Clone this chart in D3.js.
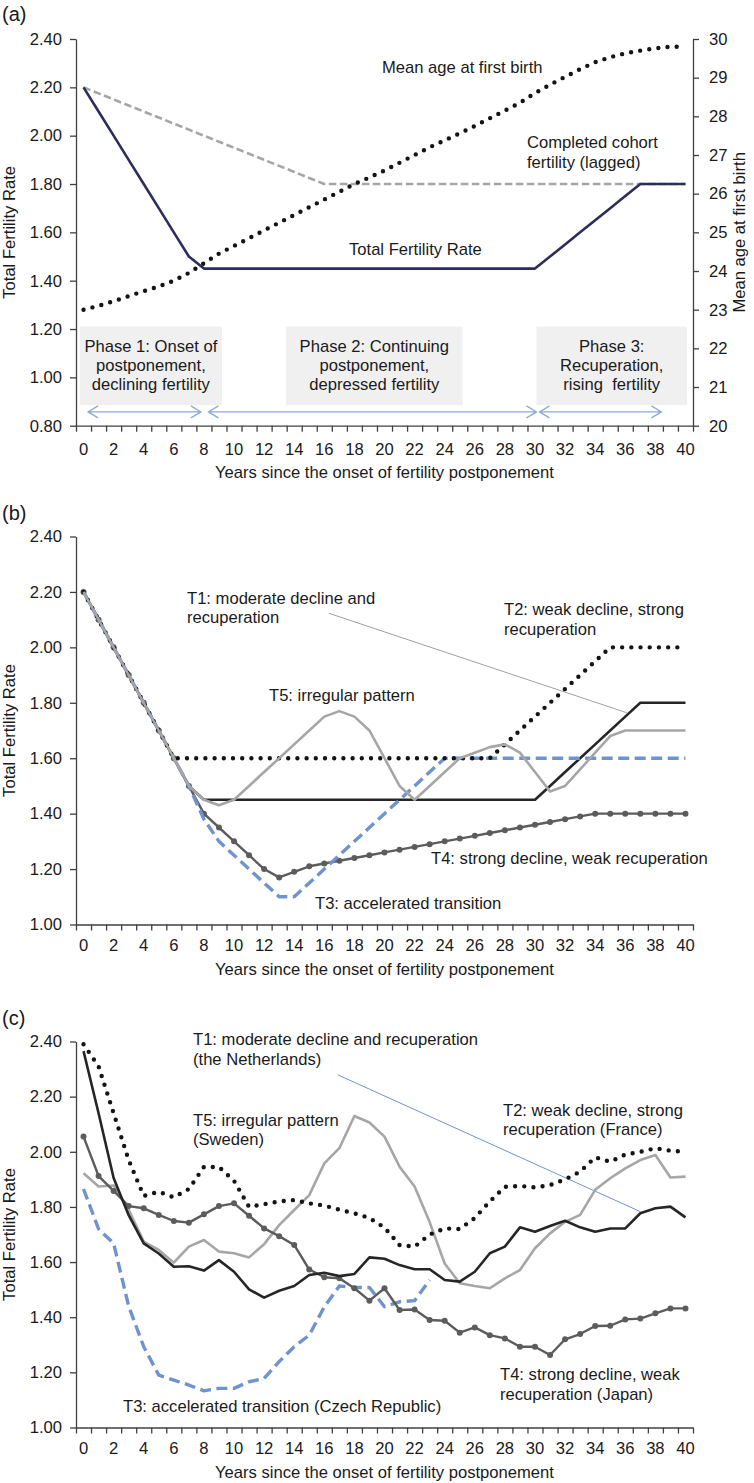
<!DOCTYPE html>
<html>
<head>
<meta charset="utf-8">
<script src="https://cdn.jsdelivr.net/npm/d3@7"></script>
<style>
  body { margin: 0; background: #fff; }
  svg text { font-family: "Liberation Sans", Arial, sans-serif; fill: #1a1a1a; }
</style>
</head>
<body>
<div id="chart"></div>
<script>
// ---- data ----
const years = [0,1,2,3,4,5,6,7,8,9,10,11,12,13,14,15,16,17,18,19,20,
               21,22,23,24,25,26,27,28,29,30,31,32,33,34,35,36,37,38,39,40];
const xLabels = [0,2,4,6,8,10,12,14,16,18,20,22,24,26,28,30,32,34,36,38,40];
const tfrTicksA = [0.8,1.0,1.2,1.4,1.6,1.8,2.0,2.2,2.4];
const tfrTicksBC = [1.0,1.2,1.4,1.6,1.8,2.0,2.2,2.4];
const ageTicks = [20,21,22,23,24,25,26,27,28,29,30];

// (a) stylised model
const aTotalFertility = [2.2,2.1,2.0,1.9,1.8,1.7,1.6,1.5,1.45,1.45,1.45,1.45,1.45,1.45,1.45,1.45,
  1.45,1.45,1.45,1.45,1.45,1.45,1.45,1.45,1.45,1.45,1.45,1.45,1.45,1.45,1.45,
  1.5,1.55,1.6,1.65,1.7,1.75,1.8,1.8,1.8,1.8];
const aCohortFertility = [2.2,2.175,2.15,2.125,2.1,2.075,2.05,2.025,2.0,1.975,1.95,1.925,1.9,1.875,1.85,1.825,
  1.8,1.8,1.8,1.8,1.8,1.8,1.8,1.8,1.8,1.8,1.8,1.8,1.8,1.8,1.8,1.8,1.8,1.8,1.8,1.8,1.8,1.8,1.8,1.8,1.8];
const aMeanAge = [23.0,23.1,23.22,23.35,23.48,23.6,23.75,23.95,24.2,24.45,
  24.65,24.85,25.05,25.25,25.45,25.65,25.85,26.05,26.25,26.42,
  26.6,26.8,27.0,27.2,27.38,27.56,27.75,27.95,28.15,28.35,
  28.6,28.82,29.02,29.22,29.4,29.53,29.63,29.7,29.76,29.8,29.8];
const aPhaseText = [
  ["Phase 1: Onset of", "postponement,", "declining fertility"],
  ["Phase 2: Continuing", "postponement,", "depressed fertility"],
  ["Phase 3:", "Recuperation,", "rising  fertility"]
];
const aPhaseSpans = [[-0.25, 9.2], [13.45, 25.2], [30.1, 40.1]];
const aArrowSpans = [[0.3, 7.8], [8.3, 30.1], [30.3, 38.4]];

// (b) stylised trajectories
const bT1 = [2.2,2.1,2.0,1.9,1.8,1.7,1.6,1.5,1.45,1.45,1.45,1.45,1.45,1.45,1.45,1.45,
  1.45,1.45,1.45,1.45,1.45,1.45,1.45,1.45,1.45,1.45,1.45,1.45,1.45,1.45,1.45,
  1.5,1.55,1.6,1.65,1.7,1.75,1.8,1.8,1.8,1.8];
const bT2 = [2.2,2.1,2.0,1.9,1.8,1.7,1.6,1.6,1.6,1.6,1.6,1.6,1.6,1.6,1.6,1.6,1.6,1.6,1.6,1.6,
  1.6,1.6,1.6,1.6,1.6,1.6,1.6,1.6,1.65,1.7,1.75,1.8,1.85,1.9,1.95,2.0,2.0,2.0,2.0,2.0,2.0];
const bT3 = [2.2,2.1,2.0,1.9,1.8,1.7,1.6,1.5,1.38,1.3,1.25,1.2,1.15,1.1,1.1,
  1.15,1.2,1.25,1.3,1.35,1.4,1.45,1.5,1.55,1.6,
  1.6,1.6,1.6,1.6,1.6,1.6,1.6,1.6,1.6,1.6,1.6,1.6,1.6,1.6,1.6,1.6];
const bT4 = [2.2,2.1,2.0,1.9,1.8,1.7,1.6,1.5,1.4,1.35,1.3,1.25,1.2,1.17,
  1.19,1.21,1.22,1.23,1.24,1.25,1.26,1.27,1.28,1.29,1.3,1.31,1.32,1.33,1.34,1.35,1.36,1.37,1.38,1.39,
  1.4,1.4,1.4,1.4,1.4,1.4,1.4];
const bT5 = [2.2,2.1,2.0,1.9,1.8,1.7,1.6,1.5,1.45,1.43,1.45,1.5,1.55,1.6,1.65,1.7,1.75,1.77,1.75,1.7,
  1.6,1.5,1.45,1.5,1.55,1.6,1.62,1.64,1.65,1.62,1.55,1.48,1.5,1.56,1.62,1.68,1.7,1.7,1.7,1.7,1.7];

// (c) country examples
const cNetherlands = [2.365,2.14,1.905,1.77,1.668,1.631,1.583,1.585,1.569,1.607,1.565,
  1.501,1.471,1.496,1.513,1.553,1.561,1.549,1.557,1.617,1.612,
  1.589,1.574,1.574,1.535,1.529,1.565,1.632,1.656,1.726,1.71,
  1.731,1.75,1.726,1.71,1.722,1.722,1.777,1.795,1.801,1.762];
const cFrance = [2.39,2.31,2.14,1.97,1.84,1.855,1.835,1.865,1.945,1.945,1.895,
  1.8,1.81,1.82,1.825,1.813,1.805,1.79,1.777,1.76,1.725,
  1.662,1.656,1.7,1.722,1.72,1.76,1.82,1.873,1.876,1.871,
  1.879,1.9,1.928,1.98,1.964,1.99,2.0,2.013,2.004,2.0];
const cCzech = [1.865,1.72,1.668,1.44,1.293,1.19,1.172,1.154,1.133,1.142,1.142,
  1.166,1.178,1.239,1.293,1.335,1.438,1.513,1.508,1.508,1.438,1.456,1.46,1.535];
const cJapan = [2.055,1.912,1.858,1.803,1.795,1.771,1.749,1.743,1.773,1.803,1.813,
  1.768,1.722,1.694,1.662,1.573,1.545,1.541,1.505,1.46,1.505,
  1.426,1.428,1.39,1.387,1.344,1.363,1.335,1.323,1.293,1.293,
  1.263,1.32,1.339,1.368,1.369,1.392,1.395,1.414,1.432,1.432];
const cSweden = [1.922,1.874,1.878,1.79,1.674,1.644,1.598,1.656,1.68,1.638,1.632,
  1.617,1.665,1.734,1.789,1.843,1.958,2.013,2.13,2.106,2.055,
  1.946,1.874,1.745,1.595,1.523,1.513,1.505,1.541,1.571,1.65,
  1.704,1.746,1.771,1.862,1.904,1.94,1.97,1.988,1.907,1.91];

// ---- drawing ----
const width = 754, height = 1483;
const svg = d3.select("#chart").append("svg")
  .attr("width", width)
  .attr("height", height);

const axisColor = "#404040";
const fontSize = "16.6px";
const x = d3.scaleLinear().domain([-0.5, 40.5]).range([76, 693]);
const yA = d3.scaleLinear().domain([0.8, 2.4]).range([425.7, 39]);
const yAge = d3.scaleLinear().domain([20, 30]).range([425.7, 39]);
const yB = d3.scaleLinear().domain([1.0, 2.4]).range([924.5, 536.5]);
const yC = d3.scaleLinear().domain([1.0, 2.4]).range([1427.5, 1041.5]);

function styleAxis(g) {
  g.attr("font-family", null).attr("font-size", null);
  g.select(".domain").attr("stroke", axisColor).attr("stroke-width", 1.3);
  g.selectAll(".tick line").attr("stroke", axisColor).attr("stroke-width", 1.3);
  g.selectAll(".tick text").style("font-size", fontSize).attr("fill", "#1a1a1a");
}

function drawFrame(y, yTicks, labelOffset, titleOffset, panelLabel, panelLabelY) {
  const bottom = y.range()[0];
  const top = y.range()[1];

  svg.append("g")
    .attr("transform", `translate(${x.range()[0]},0)`)
    .call(d3.axisLeft(y).tickValues(yTicks).tickSize(6).tickSizeOuter(0)
      .tickPadding(8).tickFormat(d3.format(".2f")))
    .call(styleAxis);

  const bounds = years.map(d => d - 0.5).concat([40.5]);
  svg.append("g")
    .attr("transform", `translate(0,${bottom})`)
    .call(d3.axisBottom(x).tickValues(bounds).tickSize(6).tickSizeOuter(0).tickFormat(""))
    .call(styleAxis);

  svg.append("g").selectAll("text")
    .data(xLabels)
    .enter()
    .append("text")
    .attr("x", d => x(d))
    .attr("y", bottom + labelOffset)
    .attr("text-anchor", "middle")
    .style("font-size", fontSize)
    .text(d => d);

  svg.append("text")
    .attr("x", 384.5)
    .attr("y", bottom + titleOffset)
    .attr("text-anchor", "middle")
    .style("font-size", fontSize)
    .text("Years since the onset of fertility postponement");

  svg.append("text")
    .attr("transform", `translate(15,${(top + bottom) / 2}) rotate(-90)`)
    .attr("text-anchor", "middle")
    .style("font-size", fontSize)
    .text("Total Fertility Rate");

  svg.append("text")
    .attr("x", 2)
    .attr("y", panelLabelY)
    .style("font-size", "20px")
    .text(panelLabel);
}

function plotLine(values, y, style) {
  const line = d3.line()
    .x((d, i) => x(years[i]))
    .y(d => y(d));
  const p = svg.append("path")
    .datum(values)
    .attr("d", line)
    .attr("fill", "none")
    .attr("stroke", style.color)
    .attr("stroke-width", style.width)
    .attr("stroke-linejoin", "round");
  if (style.dash) p.attr("stroke-dasharray", style.dash);
  if (style.cap) p.attr("stroke-linecap", style.cap);
  if (style.markers) {
    svg.append("g").selectAll("circle")
      .data(values)
      .enter()
      .append("circle")
      .attr("cx", (d, i) => x(years[i]))
      .attr("cy", d => y(d))
      .attr("r", 3)
      .attr("fill", style.color);
  }
  return p;
}

function addText(lines, xPos, yPos, step) {
  const t = svg.append("text")
    .attr("x", xPos)
    .attr("y", yPos)
    .style("font-size", fontSize)
    .style("white-space", "pre");
  lines.forEach((s, i) => {
    t.append("tspan").attr("x", xPos).attr("y", yPos + i * step).text(s);
  });
  return t;
}

const dotted = { color: "#141414", width: 4.4, dash: "0,9.2", cap: "round" };
const darkSolid = { color: "#262626", width: 2.6 };
const greySolid = { color: "#a6a6a6", width: 2.6 };
const blueDash = { color: "#6f94cd", width: 3.4, dash: "11,5.5" };
const markerLine = { color: "#5c5c5c", width: 2.4, markers: true };

// ===== panel (a) =====
drawFrame(yA, tfrTicksA, 29, 52, "(a)", 21);

svg.append("g")
  .attr("transform", `translate(${x.range()[1]},0)`)
  .call(d3.axisRight(yAge).tickValues(ageTicks).tickSize(6).tickSizeOuter(0).tickPadding(10))
  .call(styleAxis);

svg.append("text")
  .attr("transform", `translate(745,${(yA.range()[0] + yA.range()[1]) / 2}) rotate(-90)`)
  .attr("text-anchor", "middle")
  .style("font-size", fontSize)
  .text("Mean age at first birth");

// phase boxes
svg.append("g").selectAll("rect")
  .data(aPhaseSpans)
  .enter()
  .append("rect")
  .attr("x", d => x(d[0]))
  .attr("y", yA(1.21))
  .attr("width", d => x(d[1]) - x(d[0]))
  .attr("height", yA(0.885) - yA(1.21))
  .attr("fill", "#f0f0f0");

aPhaseText.forEach((lines, i) => {
  const cx = (x(aPhaseSpans[i][0]) + x(aPhaseSpans[i][1])) / 2;
  addText(lines, cx, 352, 19).attr("text-anchor", "middle");
});

// phase arrows
const arrowY = yA(0.857);
aArrowSpans.forEach(s => {
  const x1 = x(s[0]), x2 = x(s[1]);
  svg.append("path")
    .attr("d", `M${x1},${arrowY}H${x2}` +
      `M${x1 + 10},${arrowY - 6}L${x1},${arrowY}L${x1 + 10},${arrowY + 6}` +
      `M${x2 - 10},${arrowY - 6}L${x2},${arrowY}L${x2 - 10},${arrowY + 6}`)
    .attr("fill", "none")
    .attr("stroke", "#8eaad0")
    .attr("stroke-width", 1.3);
});

plotLine(aCohortFertility, yA, { color: "#a6a6a6", width: 2.6, dash: "7.5,3.5" });
plotLine(aTotalFertility, yA, { color: "#2b2d5c", width: 2.6 });
plotLine(aMeanAge, yAge, dotted);

addText(["Mean age at first birth"], 382, 72.5, 0);
addText(["Completed cohort", "fertility (lagged)"], 527, 148, 20);
addText(["Total Fertility Rate"], 349, 255, 0);

// ===== panel (b) =====
drawFrame(yB, tfrTicksBC, 26.5, 50.5, "(b)", 520);

svg.append("line")
  .attr("x1", x(16.3)).attr("y1", yB(2.123))
  .attr("x2", x(36.1)).attr("y2", yB(1.764))
  .attr("stroke", "#a0a0a0")
  .attr("stroke-width", 1);

plotLine(bT1, yB, darkSolid);
plotLine(bT4, yB, markerLine);
plotLine(bT3, yB, blueDash);
plotLine(bT2, yB, dotted);
plotLine(bT5, yB, greySolid);

addText(["T1: moderate decline and", "recuperation"], 187, 603.5, 19.5);
addText(["T2: weak decline, strong", "recuperation"], 504, 615, 20);
addText(["T5: irregular pattern"], 269, 701, 0);
addText(["T4: strong decline, weak recuperation"], 431, 863.5, 0);
addText(["T3: accelerated transition"], 315, 908.5, 0);

// ===== panel (c) =====
drawFrame(yC, tfrTicksBC, 26.5, 50.5, "(c)", 1025);

svg.append("line")
  .attr("x1", x(16.9)).attr("y1", yC(2.279))
  .attr("x2", x(37.0)).attr("y2", yC(1.783))
  .attr("stroke", "#6f94cd")
  .attr("stroke-width", 1);

plotLine(cSweden, yC, greySolid);
plotLine(cCzech, yC, blueDash);
plotLine(cJapan, yC, markerLine);
plotLine(cNetherlands, yC, darkSolid);
plotLine(cFrance, yC, dotted);

addText(["T1: moderate decline and recuperation", "(the Netherlands)"], 193, 1045, 19.5);
addText(["T5: irregular pattern", "(Sweden)"], 193, 1125.5, 19.5);
addText(["T2: weak decline, strong", "recuperation (France)"], 503, 1115.5, 19.5);
addText(["T3: accelerated transition (Czech Republic)"], 123, 1412.3, 0);
addText(["T4: strong decline, weak", "recuperation (Japan)"], 500, 1380, 19.5);
</script>
</body>
</html>
